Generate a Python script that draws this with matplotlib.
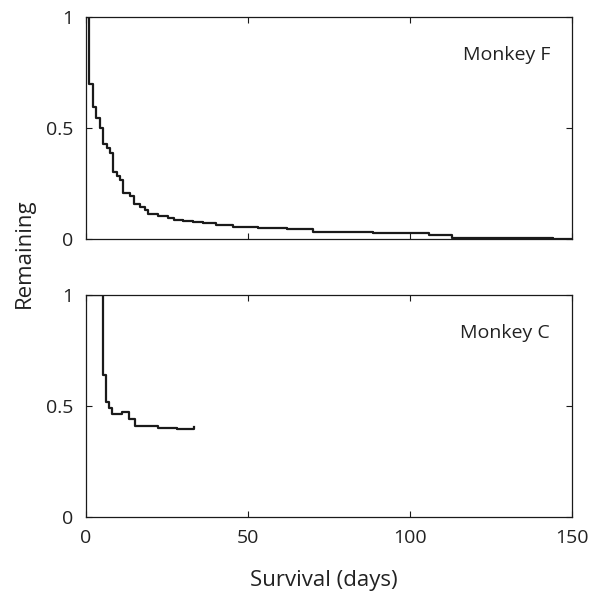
import matplotlib
matplotlib.use("Agg")
import matplotlib.pyplot as plt

plt.rcParams.update({
    "font.family": ["Open Sans", "DejaVu Sans"],
    "font.size": 14,
    "xtick.direction": "in",
    "ytick.direction": "in",
    "xtick.major.size": 4,
    "ytick.major.size": 4,
    "axes.linewidth": 0.9,
})

# Monkey F survival curve (days, fraction remaining)
days_f = [0, 0.9, 2.3, 3.1, 4.3, 5.3, 6.4, 7.4, 8.4, 9.5, 10.5, 11.5, 13.6, 14.8,
          16.7, 18.2, 19.2, 22.3, 25.4, 27, 30, 33, 36, 40, 45.5, 53, 62, 70,
          78.4, 88.6, 106, 113, 127, 144, 150]
remain_f = [1, 0.70, 0.596, 0.544, 0.50, 0.43, 0.41, 0.386, 0.303, 0.284, 0.266,
            0.209, 0.194, 0.158, 0.143, 0.131, 0.113, 0.104, 0.093, 0.086, 0.080,
            0.075, 0.070, 0.065, 0.053, 0.048, 0.044, 0.033, 0.030, 0.027, 0.019,
            0.006, 0.004, 0.001, 0.001]

# Monkey C survival curve
days_c = [0, 5.1, 6.2, 7.2, 7.9, 11, 13.4, 15.1, 22.3, 28.2, 33.4]
remain_c = [1, 0.64, 0.52, 0.49, 0.463, 0.474, 0.44, 0.41, 0.402, 0.395, 0.407]

panels = [("Monkey F", days_f, remain_f), ("Monkey C", days_c, remain_c)]
x_ticks = [0, 50, 100, 150]
y_ticks = [0, 0.5, 1]
y_tick_labels = ["0", "0.5", "1"]

fig = plt.figure(figsize=(5.99, 5.95), dpi=100)
ax_top = fig.add_axes([0.1436, 0.5983, 0.8114, 0.3731])
ax_bot = fig.add_axes([0.1436, 0.1311, 0.8114, 0.3731])

for ax, (name, t, v) in zip([ax_top, ax_bot], panels):
    ax.step(t, v, where="post", color="#1a1a1a", linewidth=1.6)
    ax.set_xlim(0, 150)
    ax.set_ylim(0, 1)
    ax.set_xticks(x_ticks)
    ax.set_yticks(y_ticks)
    ax.set_yticklabels(y_tick_labels)
    ax.tick_params(top=True, right=True, colors="#1a1a1a", labelcolor="#222222",
                   labelsize=14, pad=9)
    for s in ax.spines.values():
        s.set_color("#1a1a1a")
    ax.text(0.955, 0.83, name, transform=ax.transAxes, ha="right", va="center",
            fontsize=14, color="#222222")

ax_top.tick_params(labelbottom=False)

fig.text(0.04, 0.575, "Remaining", rotation=90, ha="center", va="center",
         fontsize=16, color="#222222")
fig.text(0.541, 0.024, "Survival (days)", ha="center", va="center",
         fontsize=16, color="#222222")

fig.savefig("out.png", dpi=100)
